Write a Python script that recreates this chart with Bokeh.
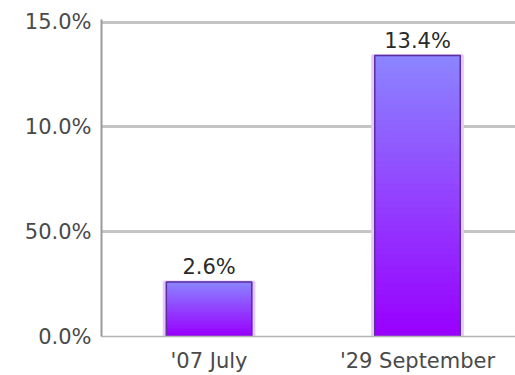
from bokeh.plotting import figure
from bokeh.models import FixedTicker, Range1d, ColumnDataSource
from bokeh.embed import file_html
from bokeh.resources import INLINE

# chart data
categories = ["'07 July", "'29 September"]
values = [2.6, 13.4]
value_labels = ["2.6%", "13.4%"]
y_ticks = [0, 5, 10, 15]
y_tick_labels = ["0.0%", "50.0%", "10.0%", "15.0%"]

FONT = "DejaVu Sans"
BAR_W = 0.41
TOP_RGB = (0x8C, 0x84, 0xFF)
BOT_RGB = (0x99, 0x00, 0xFF)
STEPS = 48

p = figure(width=515, height=375, output_backend="svg", toolbar_location=None,
           x_range=Range1d(-0.516, 1.47), y_range=Range1d(0, 15.12),
           min_border_left=101, min_border_right=0, min_border_top=19,
           min_border_bottom=38)
p.outline_line_color = None
p.background_fill_color = "white"

xs = list(range(len(categories)))

# gradient fill: each bar is split into thin, slightly overlapping slices
left, right, bottom, top, colors = [], [], [], [], []
for x, v in zip(xs, values):
    for i in range(STEPS):
        t = i / (STEPS - 1)  # 0 at bottom, 1 at top
        rgb = tuple(int(round(b + (a - b) * t)) for a, b in zip(TOP_RGB, BOT_RGB))
        left.append(x - BAR_W / 2)
        right.append(x + BAR_W / 2)
        bottom.append(v * i / STEPS)
        top.append(min(v, v * (i + 2) / STEPS))
        colors.append("#%02x%02x%02x" % rgb)

# soft halo around each bar
p.vbar(x=xs, top=values, width=BAR_W + 0.02, fill_color=None,
       line_color="#e6c8ff", line_width=3)
p.quad(left=left, right=right, bottom=bottom, top=top, fill_color=colors,
       line_color=colors, line_width=0.5)
# dark outline
p.vbar(x=xs, top=values, width=BAR_W, fill_color=None,
       line_color="#5a2f9c", line_width=1.5)

src = ColumnDataSource(dict(x=xs, y=values, t=value_labels))
p.text(x="x", y="y", text="t", source=src, text_align="center",
       text_baseline="bottom", y_offset=-3, text_font_size="21px",
       text_color="#2a2a2a", text_font={"value": FONT})

# axes
p.yaxis.ticker = FixedTicker(ticks=y_ticks)
p.yaxis.major_label_overrides = {t: s for t, s in zip(y_ticks, y_tick_labels)}
p.xaxis.ticker = FixedTicker(ticks=xs)
p.xaxis.major_label_overrides = {x: c for x, c in zip(xs, categories)}

for ax in (p.xaxis, p.yaxis):
    ax.major_tick_line_color = None
    ax.minor_tick_line_color = None
    ax.major_label_text_font = FONT
    ax.major_label_text_font_size = "21px"
    ax.major_label_text_color = "#4a4a4a"
p.yaxis.axis_line_color = "#9a9a9a"
p.yaxis.axis_line_width = 2
p.yaxis.major_label_standoff = 4
p.xaxis.axis_line_color = "#b5b5b5"
p.xaxis.axis_line_width = 1.5
p.xaxis.major_label_standoff = 6

p.xgrid.grid_line_color = None
p.ygrid.grid_line_color = "#c4c4c4"
p.ygrid.grid_line_width = 3

open("out.html", "w").write(file_html(p, INLINE))
